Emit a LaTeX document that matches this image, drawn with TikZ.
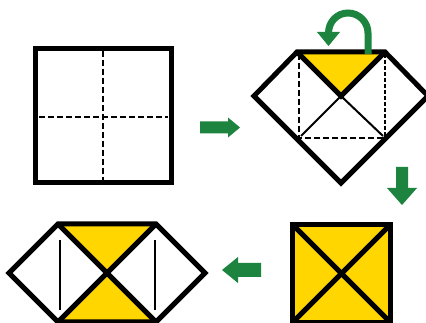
\documentclass[tikz,border=0pt]{standalone}
\begin{document}
\begin{tikzpicture}[x=1pt,y=-1pt]
\definecolor{fgreen}{RGB}{28,132,62}
\definecolor{fyellow}{RGB}{255,214,0}
\tikzset{
  thick line/.style={line width=5pt, line join=miter, black},
  thin line/.style={line width=2pt, black},
  fold line/.style={line width=2.2pt, black, dash pattern=on 6pt off 3pt},
  fine fold/.style={line width=2.2pt, black, dash pattern=on 4pt off 2pt},
  green arrow/.style={fill=fgreen, draw=none},
}
\useasboundingbox (0,0) rectangle (426,323);
\fill[white] (0,0) rectangle (426,323);

% ---------- step 1: plain square with fold lines ----------
\coordinate (s1a) at (35.5,49);
\coordinate (s1b) at (171,183);
\draw[fold line] (103.3,51) -- (103.3,181);
\draw[fold line] (39,116.7) -- (168,116.7);
\draw[thick line] (s1a) rectangle (s1b);

% arrow right
\fill[green arrow] (200,121.5) -- (228,121.5) -- (228,117.5) -- (240,127.5)
  -- (228,137.5) -- (228,133.5) -- (200,133.5) -- cycle;

% ---------- step 2: folded shape ----------
\coordinate (tl) at (297,52);
\coordinate (tr) at (385,52);
\coordinate (lv) at (254,96);
\coordinate (rv) at (428,96);
\coordinate (bv) at (341,183);
\coordinate (c2) at (341,96);
\fill[fyellow] (tl) -- (tr) -- (c2) -- cycle;
\draw[fold line] (299,54) -- (299,138) -- (385,138);
\draw[fine fold] (385,54) -- (385,138);
\draw[thin line] (c2) -- (301,136);
\draw[thin line] (c2) -- (383,136);
\draw[thick line] (tl) -- (c2) -- (tr);
\draw[thick line] (tl) -- (tr) -- (rv) -- (bv) -- (lv) -- cycle;

% curved arrow
\draw[line width=7pt, fgreen] (368,54) -- (368,33)
  .. controls (368,22) and (359,13) .. (348,13)
  .. controls (337,13) and (328.5,22) .. (328.5,33);
\fill[green arrow] (317,32) -- (340,32) -- (328.5,46) -- cycle;

% arrow down
\fill[green arrow] (396,167) -- (408,167) -- (408,188) -- (417,188) -- (402,205)
  -- (387,188) -- (396,188) -- cycle;

% ---------- step 3: yellow square ----------
\coordinate (y1) at (292.5,224.5);
\coordinate (y2) at (390.5,224.5);
\coordinate (y3) at (390.5,322.5);
\coordinate (y4) at (292.5,322.5);
\fill[fyellow] (y1) rectangle (y3);
\draw[thick line] (y1) -- (y3);
\draw[thick line] (y2) -- (y4);
\draw[thick line] (y1) -- (y2) -- (y3) -- (y4) -- cycle;

% arrow left
\fill[green arrow] (261,263) -- (238,263) -- (238,257) -- (222,270)
  -- (238,283) -- (238,277) -- (261,277) -- cycle;

% ---------- step 4: hexagon ----------
\coordinate (h1) at (58,224);
\coordinate (h2) at (156,224);
\coordinate (hr) at (205,273);
\coordinate (h3) at (156,322);
\coordinate (h4) at (58,322);
\coordinate (hl) at (9,273);
\coordinate (hc) at (107,273);
\fill[fyellow] (h1) -- (h2) -- (hc) -- cycle;
\fill[fyellow] (h4) -- (h3) -- (hc) -- cycle;
\draw[thin line] (59.5,240) -- (59.5,310);
\draw[thin line] (155,240) -- (155,310);
\draw[thick line] (h1) -- (h3);
\draw[thick line] (h2) -- (h4);
\draw[thick line] (h1) -- (h2) -- (hr) -- (h3) -- (h4) -- (hl) -- cycle;
\end{tikzpicture}
\end{document}
